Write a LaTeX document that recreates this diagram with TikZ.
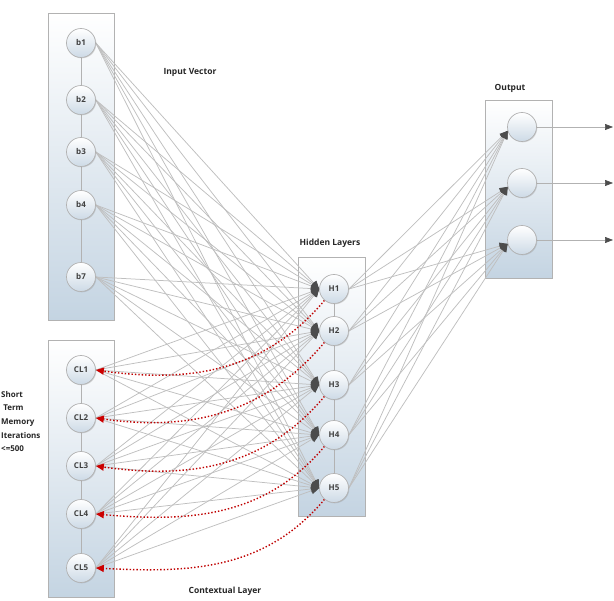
\documentclass[tikz,border=0pt]{standalone}
\usepackage{fontspec}
\setmainfont{Open Sans}
\usetikzlibrary{arrows.meta,shadows}
\pgfdeclarelayer{bg}
\pgfdeclarelayer{edges}
\pgfsetlayers{bg,edges,main}
\definecolor{boxbot}{RGB}{196,212,226}
\definecolor{nodebot}{RGB}{205,218,230}
\tikzset{
  layerbox/.style={draw=gray!60, line width=0.6pt, top color=white, bottom color=boxbot,
    drop shadow={opacity=0.35, shadow xshift=1.2pt, shadow yshift=-1.2pt}},
  unit/.style={circle, draw=gray!60, line width=0.7pt, minimum size=29pt, inner sep=0pt,
    top color=white, bottom color=nodebot, text=black!75,
    font=\bfseries\fontsize{8}{9}\selectfont,
    drop shadow={opacity=0.3, shadow xshift=0.8pt, shadow yshift=-0.8pt}},
  link/.style={draw=gray!50, line width=0.75pt,
    -{Triangle[length=8pt,width=7pt,color=gray!60!black]}},
  memo/.style={draw=red!75!black, dotted, line width=1.4pt,
    -{Triangle[length=8pt,width=7pt,color=red!80!black]}},
  outarrow/.style={draw=gray!60, line width=0.6pt,
    -{Triangle[length=8pt,width=6pt,color=gray!60!black]}},
  chain/.style={draw=gray!60, line width=0.6pt},
  lbl/.style={font=\bfseries\fontsize{8.5}{10}\selectfont, text=black!85, inner sep=0pt}
}
\begin{document}
\begin{tikzpicture}[x=1pt,y=-1pt]
\useasboundingbox (0,0) rectangle (614,601);
% layer boxes
\begin{pgfonlayer}{bg}
  \path[layerbox] (48,13) rectangle (114,320);
  \path[layerbox] (48,340) rectangle (114,597);
  \path[layerbox] (298,257) rectangle (365,516);
  \path[layerbox] (485,100) rectangle (552,278);
\end{pgfonlayer}
% input nodes
\node[unit] (b1) at (81,43) {b1};
\node[unit] (b2) at (81,100) {b2};
\node[unit] (b3) at (81,152) {b3};
\node[unit] (b4) at (81,205) {b4};
\node[unit] (b7) at (81,277) {b7};
% context nodes
\node[unit] (CL1) at (81,370) {CL1};
\node[unit] (CL2) at (81,418) {CL2};
\node[unit] (CL3) at (81,466) {CL3};
\node[unit] (CL4) at (81,514) {CL4};
\node[unit] (CL5) at (81,568) {CL5};
% hidden nodes
\node[unit] (H1) at (334,289) {H1};
\node[unit] (H2) at (334,331) {H2};
\node[unit] (H3) at (334,385) {H3};
\node[unit] (H4) at (334,435) {H4};
\node[unit] (H5) at (334,488) {H5};
% output nodes
\node[unit] (O1) at (522,127) {};
\node[unit] (O2) at (522,183) {};
\node[unit] (O3) at (522,240) {};
\coordinate (E1) at (613,127);
\coordinate (E2) at (613,183);
\coordinate (E3) at (613,240);
% labels
\node[lbl] (tin) at (190,72) {Input Vector};
\node[lbl] (thid) at (330,243) {Hidden Layers};
\node[lbl] (tout) at (510,88) {Output};
\node[lbl] (tctx) at (225,591) {Contextual Layer};
\node[lbl, align=left, anchor=north west, font=\bfseries\fontsize{8}{13.6}\selectfont] (tmem) at (1,391)
  {Short\\\ Term\\Memory\\Iterations\\<=500};
% edges
\begin{pgfonlayer}{edges}
  \draw[chain] (b1) -- (b2) -- (b3) -- (b4) -- (b7);
  \draw[chain] (CL1) -- (CL2) -- (CL3) -- (CL4) -- (CL5);
  \draw[chain] (H1) -- (H2) -- (H3) -- (H4) -- (H5);
  \foreach \s in {b1,b2,b3,b4,b7,CL1,CL2,CL3,CL4,CL5}
    \foreach \h in {H1,H2,H3,H4,H5}
      \draw[link] (\s.east) -- (\h.west);
  \foreach \h in {H1,H2,H3,H4,H5}
    \foreach \o in {O1,O2,O3}
      \draw[link] (\h.east) -- (\o.195);
  \draw[outarrow] (O1) -- (E1);
  \draw[outarrow] (O2) -- (E2);
  \draw[outarrow] (O3) -- (E3);
  \draw[memo] (H1.230) to[out=230,in=-8] (CL1.east);
  \draw[memo] (H2.230) to[out=230,in=-8] (CL2.east);
  \draw[memo] (H3.230) to[out=230,in=-8] (CL3.east);
  \draw[memo] (H4.230) to[out=230,in=-5] (CL4.east);
  \draw[memo] (H5.230) to[out=230,in=-3] (CL5.east);
\end{pgfonlayer}
\end{tikzpicture}
\end{document}
